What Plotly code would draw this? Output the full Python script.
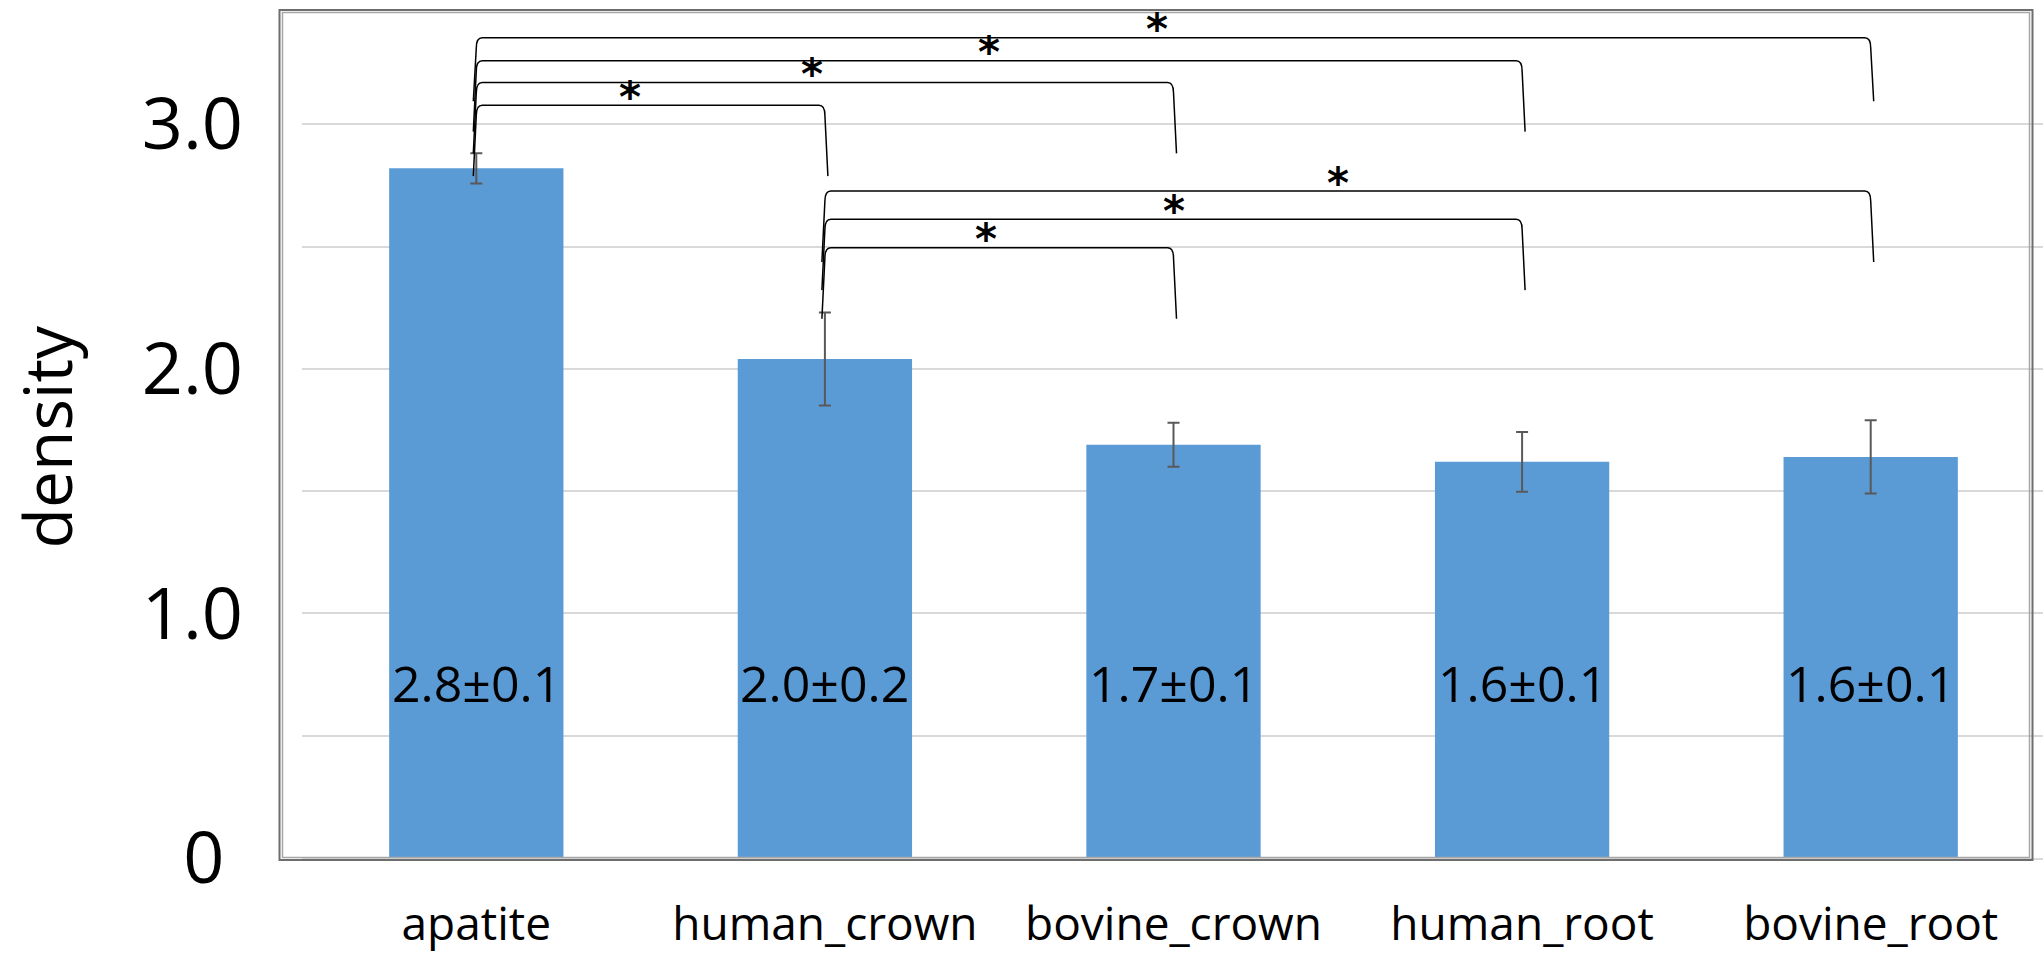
import plotly.graph_objects as go

# ---------------- data ----------------
categories = ["apatite", "human_crown", "bovine_crown", "human_root", "bovine_root"]
density = [2.82, 2.04, 1.69, 1.62, 1.64]
density_sd = [0.062, 0.19, 0.09, 0.122, 0.15]
value_labels = ["2.8±0.1", "2.0±0.2", "1.7±0.1", "1.6±0.1", "1.6±0.1"]
sig_pairs = [(0, 1), (0, 2), (0, 3), (0, 4), (1, 2), (1, 3), (1, 4)]
sig_marks = ["*", "*", "*", "*", "*", "*", "*"]
y_tick_vals = [0, 0.5, 1.0, 1.5, 2.0, 2.5, 3.0, 3.5]
y_tick_text = ["0\u00a0", "", "1.0", "", "2.0", "", "3.0", ""]

# ---------------- layout constants ----------------
W, H = 2043, 955
ML, MR, MT, MB = 302, 0, 2, 97
PW, PH = W - ML - MR, H - MT - MB
bracket_top = [3.078, 3.171, 3.260, 3.354, 2.495, 2.612, 2.727]
bracket_leg = [0.29, 0.29, 0.29, 0.26, 0.29, 0.29, 0.29]
mark_dx = [-0.058, -0.036, -0.028, -0.046, -0.037, 0.0, -0.029]
FONT = "Open Sans"
BAR_COLOR = "#5B9BD5"

x_idx = list(range(len(categories)))
span = PW / 348.6
xr = [-0.5, -0.5 + span]


def px2paper(px, py):
    return (px - ML) / PW, (H - MB - py) / PH


fig = go.Figure()
fig.add_trace(go.Bar(
    x=x_idx, y=density,
    marker=dict(color=BAR_COLOR, line=dict(width=0)),
    error_y=dict(type="data", array=density_sd, visible=True,
                 color="#595959", thickness=2, width=6),
    showlegend=False, hoverinfo="skip",
))

# value labels inside bars
for i, t in enumerate(value_labels):
    fig.add_annotation(x=x_idx[i], y=0.715, xref="x", yref="y", text=t,
                       showarrow=False, xanchor="center", yanchor="middle",
                       font=dict(family=FONT, size=50, color="black"))

# significance brackets
rx, ry, sl = 6 / 348.6, 10 / 244.6, 3 / 348.6
for k, (a, b) in enumerate(sig_pairs):
    xl, xrr = x_idx[a], x_idx[b]
    yh = bracket_top[k]
    yb = yh - bracket_leg[k]
    path = (f"M {xl - sl},{yb} L {xl},{yh - ry} Q {xl},{yh} {xl + rx},{yh} "
            f"L {xrr - rx},{yh} Q {xrr},{yh} {xrr},{yh - ry} L {xrr + sl},{yb}")
    fig.add_shape(type="path", path=path, xref="x", yref="y",
                  line=dict(color="black", width=1.5))
    fig.add_annotation(x=(xl + xrr) / 2 + mark_dx[k], y=yh, xref="x", yref="y",
                       text="<b>" + sig_marks[k] + "</b>", showarrow=False, xanchor="center",
                       yanchor="middle", yshift=8,
                       font=dict(family="DejaVu Sans", size=42, color="black"))

# outer double frame
x0p, y0p = px2paper(279.5, 860)
x1p, y1p = px2paper(2032.5, 10)
fig.add_shape(type="rect", xref="paper", yref="paper", x0=x0p, y0=y0p, x1=x1p, y1=y1p,
              line=dict(color="#6e6e6e", width=2))
x0p, y0p = px2paper(282.5, 857.5)
x1p, y1p = px2paper(2029.5, 12.5)
fig.add_shape(type="rect", xref="paper", yref="paper", x0=x0p, y0=y0p, x1=x1p, y1=y1p,
              line=dict(color="#a6a6a6", width=1.5))

# y-axis title
tx, ty = px2paper(46, 436.5)
fig.add_annotation(x=tx, y=ty, xref="paper", yref="paper", text="density",
                   textangle=-90, showarrow=False, xanchor="center", yanchor="middle",
                   font=dict(family=FONT, size=66, color="black"))

fig.update_layout(
    width=W, height=H,
    margin=dict(l=ML, r=MR, t=MT, b=MB, pad=0),
    paper_bgcolor="white", plot_bgcolor="white",
    bargap=0.5,
    font=dict(family=FONT, color="black"),
    xaxis=dict(range=xr, tickmode="array", tickvals=x_idx, ticktext=categories,
               showgrid=False, zeroline=False, showline=True, linecolor="#d9d9d9",
               linewidth=2, ticks="", tickfont=dict(family=FONT, size=46, color="black"),
               ticklabelstandoff=25),
    yaxis=dict(range=[0, 3.5], tickmode="array", tickvals=y_tick_vals, ticktext=y_tick_text,
               showgrid=True, gridcolor="#d9d9d9", gridwidth=1.5, zeroline=False,
               showline=False, ticks="", tickfont=dict(family=FONT, size=72, color="black"),
               ticklabelstandoff=58),
)

fig.write_html("out.html")
